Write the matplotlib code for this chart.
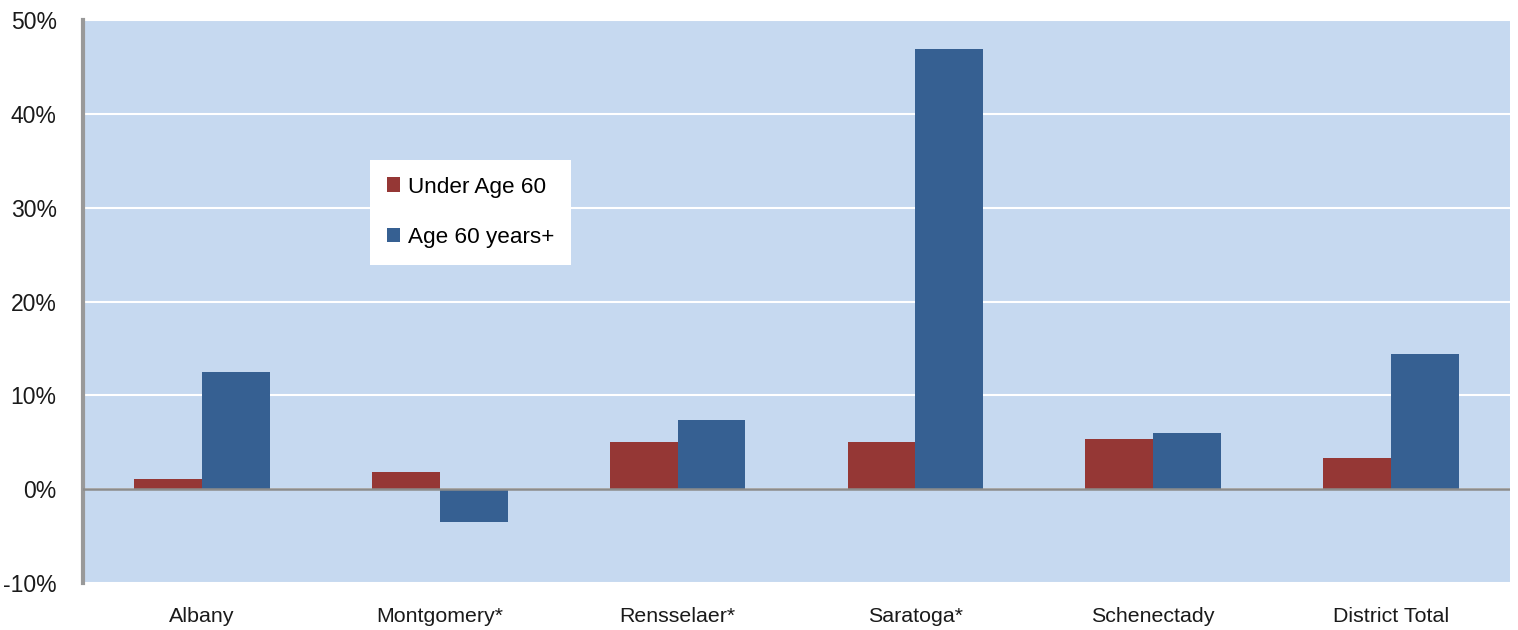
import matplotlib.pyplot as plt
import numpy as np

plt.rcParams['font.family'] = ['Liberation Sans', 'DejaVu Sans']

counties = ['Albany', 'Montgomery*', 'Rensselaer*', 'Saratoga*', 'Schenectady', 'District Total']
under60 = [1.1, 1.8, 5.0, 5.0, 5.4, 3.3]
age60plus = [12.5, -3.5, 7.4, 46.9, 6.0, 14.4]
yticks = [-10, 0, 10, 20, 30, 40, 50]

red = '#953735'
blue = '#366092'
bg = '#C6D9F0'

fig = plt.figure(figsize=(15.18, 6.3), dpi=100)
ax = fig.add_axes([0.0547, 0.0746, 0.94, 0.8936])
ax.set_facecolor(bg)

x = np.arange(len(counties))
w = 0.285
ax.bar(x - w/2, under60, w, color=red, label='Under Age 60', zorder=3)
ax.bar(x + w/2, age60plus, w, color=blue, label='Age 60 years+', zorder=3)

ax.set_xlim(-0.5, len(counties) - 0.5)
ax.set_ylim(-10, 50)
ax.set_yticks(yticks)
ax.set_yticklabels([str(t) + '%' for t in yticks], fontsize=16.5, color='#1a1a1a')
ax.set_xticks(x)
ax.set_xticklabels(counties, fontsize=15.4, color='#1a1a1a')
ax.tick_params(axis='both', length=0)
ax.tick_params(axis='y', pad=19)
ax.tick_params(axis='x', pad=17)

ax.grid(axis='y', color='white', linewidth=1.5, zorder=1)
ax.axhline(0, color='#8c8c8c', linewidth=1.8, zorder=4)

for s in ['top', 'right', 'bottom']:
    ax.spines[s].set_visible(False)
ax.spines['left'].set_color('#999999')
ax.spines['left'].set_linewidth(3)

leg = ax.legend(loc='upper left', bbox_to_anchor=(0.201, 0.752), fontsize=16.2,
                frameon=True, fancybox=False, framealpha=1, edgecolor='white',
                handlelength=0.6, handleheight=0.6, handletextpad=0.35,
                labelspacing=1.3, borderpad=0.75, borderaxespad=0)
leg.get_frame().set_linewidth(0)

fig.savefig('out.png', dpi=100)
